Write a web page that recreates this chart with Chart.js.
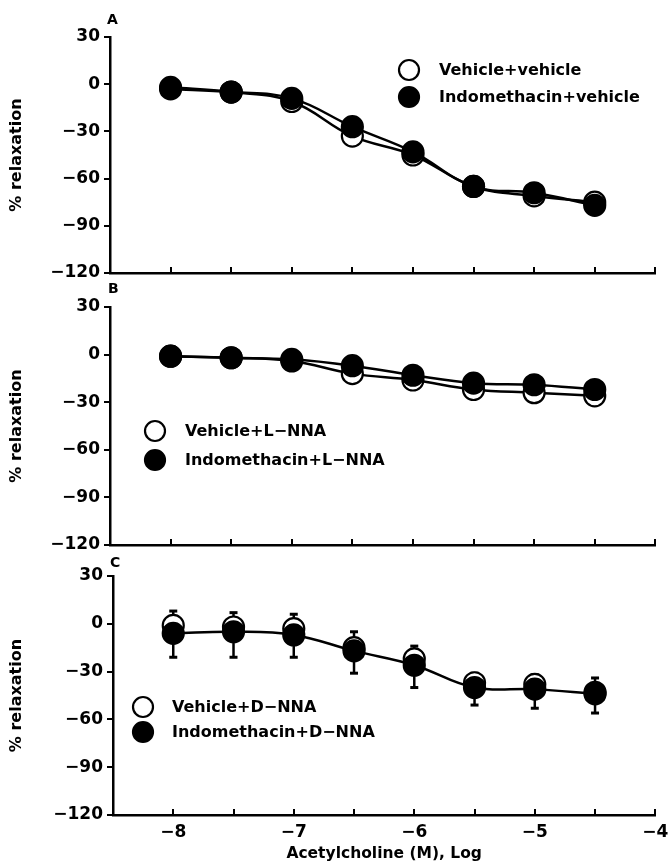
<!DOCTYPE html>
<html><head><meta charset="utf-8">
<script src="https://cdn.jsdelivr.net/npm/chart.js@4.4.0/dist/chart.umd.min.js"></script>
<style>
html,body{margin:0;padding:0;background:#fff;}
#wrap{position:relative;width:668px;height:863px;overflow:hidden;background:#fff;}
.pane{position:absolute;left:0;width:668px;}
.plabel{position:absolute;font:bold 14px 'DejaVu Sans',sans-serif;color:#000;z-index:5;line-height:14px;}
</style></head>
<body><div id="wrap">
<div class="pane" style="top:0;height:290px"><canvas id="cA" width="668" height="290"></canvas></div>
<div class="pane" style="top:290px;height:270px"><canvas id="cB" width="668" height="270"></canvas></div>
<div class="pane" style="top:560px;height:303px"><canvas id="cC" width="668" height="303"></canvas></div>
<div class="plabel" style="left:107px;top:12px">A</div>
<div class="plabel" style="left:108px;top:281px">B</div>
<div class="plabel" style="left:110px;top:555px">C</div>
</div>
<script>
// ---- data ----
const doses = [-8, -7.5, -7, -6.5, -6, -5.5, -5, -4.5];          // log [ACh] (M)
const yTicks = [30, 0, -30, -60, -90, -120];
const xTickMarks = [-8, -7.5, -7, -6.5, -6, -5.5, -5, -4.5, -4];
const xTickLabels = [-8, -7, -6, -5, -4];

const panelA_vehicle = [-2, -5, -11, -33, -45, -65, -71, -75];
const panelA_indo    = [-3, -5, -9, -27, -43, -65, -69, -77];

const panelB_vehicle = [-1, -2, -4, -12, -16, -22, -24, -26];
const panelB_indo    = [-1, -2, -3, -7, -13, -18, -19, -22];

const panelC_vehicle = [-1, -2, -3, -15, -22, -37, -38, -43];
const panelC_indo    = [-6, -5, -7, -17, -26, -40, -41, -44];
const panelC_vehicle_sem = [9, 9, 9, 10, 8, 6, 6, 9];
const panelC_indo_sem    = [15, 16, 14, 14, 14, 11, 12, 12];

const legendA = ['Vehicle+vehicle', 'Indomethacin+vehicle'];
const legendB = ['Vehicle+L\u2212NNA', 'Indomethacin+L\u2212NNA'];
const legendC = ['Vehicle+D\u2212NNA', 'Indomethacin+D\u2212NNA'];

// ---- helpers ----
const FONT = "'DejaVu Sans', sans-serif";
function fmt(v){ return v < 0 ? '\u2212' + Math.abs(v) : String(v); }
function pts(vals){ return doses.map((d,i)=>({x:d, y:vals[i]})); }

const insetLegend = {
  id:'insetLegend',
  afterDraw(chart, args, o){
    if(!o || !o.show) return;
    const ctx = chart.ctx;
    ctx.save();
    chart.data.datasets.forEach((ds,i)=>{
      const x = o.x, y = o.y + i*o.gap;
      ctx.beginPath(); ctx.arc(x, y, o.r, 0, Math.PI*2);
      ctx.fillStyle = ds.pointBackgroundColor; ctx.fill();
      ctx.lineWidth = 2.2; ctx.strokeStyle = '#000'; ctx.stroke();
      ctx.fillStyle = '#000';
      ctx.font = 'bold ' + o.size + 'px ' + FONT;
      ctx.textBaseline = 'middle'; ctx.textAlign = 'left';
      ctx.fillText(ds.label, o.textX, y + 1);
    });
    ctx.restore();
  }
};

const inwardTicks = {
  id:'inwardTicks',
  afterDraw(chart){
    const xs = chart.scales.x, ctx = chart.ctx, b = chart.chartArea.bottom;
    ctx.save(); ctx.strokeStyle = '#000'; ctx.lineWidth = 2;
    xTickMarks.forEach(v=>{
      const px = Math.round(xs.getPixelForValue(v));
      ctx.beginPath(); ctx.moveTo(px, b); ctx.lineTo(px, b - 6); ctx.stroke();
    });
    ctx.restore();
  }
};

const errorBars = {
  id:'errorBars',
  beforeDatasetsDraw(chart){
    const ctx = chart.ctx, ys = chart.scales.y;
    ctx.save(); ctx.strokeStyle = '#000';
    chart.data.datasets.forEach((ds,i)=>{
      if(!ds.sem) return;
      const meta = chart.getDatasetMeta(i);
      meta.data.forEach((pt,j)=>{
        const v = ds.data[j].y;
        const end = ys.getPixelForValue(v + ds.errDir*ds.sem[j]);
        ctx.lineWidth = 2.5;
        ctx.beginPath(); ctx.moveTo(pt.x, pt.y); ctx.lineTo(pt.x, end); ctx.stroke();
        ctx.lineWidth = 3;
        ctx.beginPath(); ctx.moveTo(pt.x-4, end); ctx.lineTo(pt.x+4, end); ctx.stroke();
      });
    });
    ctx.restore();
  }
};

function makePanel(id, veh, indo, labels, cfg){
  const base = {
    borderColor:'#000', borderWidth:2.5, pointRadius:10.5, pointHoverRadius:10.5,
    pointBorderWidth:2.2, pointBorderColor:'#000', tension:0.4, fill:false
  };
  const dsV = Object.assign({}, base, {label:labels[0], data:pts(veh), pointBackgroundColor:'#fff', order:2, showLine: cfg.vehLine});
  const dsI = Object.assign({}, base, {label:labels[1], data:pts(indo), pointBackgroundColor:'#000', order:1});
  if(cfg.semV){ dsV.sem = cfg.semV; dsV.errDir = 1; }
  if(cfg.semI){ dsI.sem = cfg.semI; dsI.errDir = -1; }
  const tickFont = {family:FONT, weight:'bold', size:17};
  return new Chart(document.getElementById(id), {
    type:'line',
    data:{datasets:[dsV, dsI]},
    options:{
      responsive:false, animation:false, clip:false,
      layout:{padding:{top:cfg.top, left:0, right:668-cfg.right, bottom:0}},
      plugins:{legend:{display:false}, tooltip:{enabled:false},
        insetLegend:Object.assign({show:true, r:10, size:16}, cfg.legend)},
      scales:{
        x:{type:'linear', min:-8.5, max:-4,
          afterBuildTicks:s=>{ s.ticks = xTickLabels.map(v=>({value:v})); },
          afterFit:s=>{ s.height = cfg.xh; s.paddingLeft = 0; s.paddingRight = 0; },
          ticks:{display:cfg.xLabels, callback:fmt, font:tickFont, color:'#000', padding:7, maxRotation:0, autoSkip:false},
          grid:{display:false, drawTicks:false},
          border:{display:true, color:'#000', width:2.5},
          title:{display:cfg.xLabels, text:'Acetylcholine (M), Log', color:'#000',
                 font:{family:FONT, weight:'bold', size:15.5}, padding:{top:0, bottom:0}}
        },
        y:{type:'linear', min:-120, max:30,
          afterBuildTicks:s=>{ s.ticks = yTicks.map(v=>({value:v})); },
          afterFit:s=>{ s.width = cfg.left; s.paddingTop = 0; s.paddingBottom = 0; },
          ticks:{callback:fmt, font:tickFont, color:'#000', padding:4},
          grid:{drawOnChartArea:false, drawTicks:true, tickLength:6, color:'#000', lineWidth:2},
          border:{display:true, color:'#000', width:2.5},
          title:{display:true, text:'% relaxation', color:'#000',
                 font:{family:FONT, weight:'bold', size:16}, padding:{top:7, bottom:0}}
        }
      }
    },
    plugins:[errorBars, inwardTicks, insetLegend]
  });
}

makePanel('cA', panelA_vehicle, panelA_indo, legendA,
  {top:37, right:657, left:110, xh:17, xLabels:false, vehLine:true,
   legend:{x:409, y:70, gap:27, textX:439}});
makePanel('cB', panelB_vehicle, panelB_indo, legendB,
  {top:17, right:658, left:110, xh:15, xLabels:false, vehLine:true,
   legend:{x:155, y:141, gap:29, textX:185}});
makePanel('cC', panelC_vehicle, panelC_indo, legendC,
  {top:16, right:659, left:113, xh:48, xLabels:true, vehLine:false,
   semV:panelC_vehicle_sem, semI:panelC_indo_sem,
   legend:{x:143, y:147, gap:25, textX:172}});
</script>
</body></html>
